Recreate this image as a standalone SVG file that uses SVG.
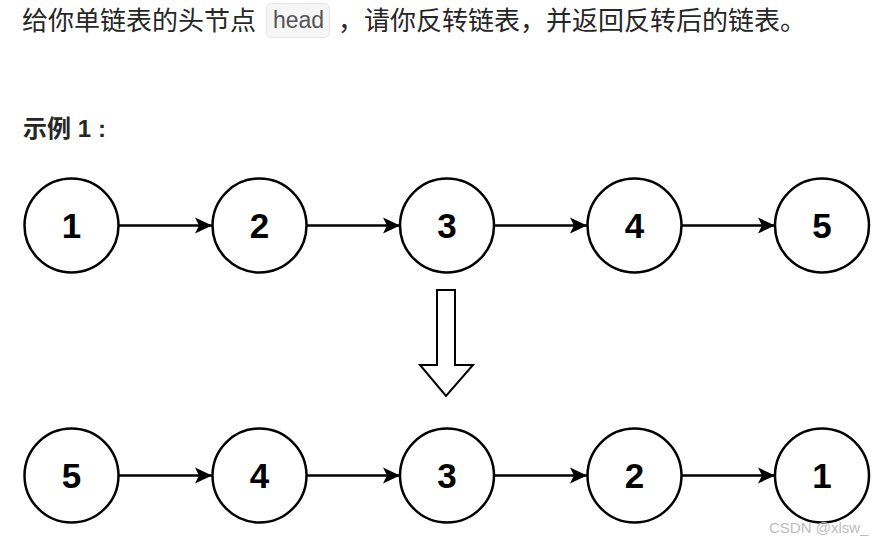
<svg xmlns="http://www.w3.org/2000/svg" width="877" height="546" viewBox="0 0 877 546">
<defs>
<style>
.title{font-family:"Noto Sans CJK SC","Liberation Sans",sans-serif;font-size:26px;fill:#262626}
.code{font-family:"Liberation Sans",sans-serif;font-size:23px;fill:#555}
.h{font-family:"Liberation Sans","Noto Sans CJK SC",sans-serif;font-size:24px;font-weight:bold;fill:#262626}
.node circle{fill:#fff;stroke:#000;stroke-width:2.5}
.node text{font-family:"Liberation Sans",Arial,sans-serif;font-size:35px;font-weight:bold;fill:#000;text-anchor:middle}
.conn line{stroke:#000;stroke-width:2.5}
.wm{font-family:"Liberation Sans",sans-serif;font-size:15px;fill:#bdbdbd}
</style>
<marker id="ah" markerUnits="userSpaceOnUse" markerWidth="20" markerHeight="20" viewBox="0 0 20 20" refX="17" refY="10" orient="auto">
<path d="M17,10 L0,2 L4,10 L0,18 Z" fill="#000"/>
</marker>
</defs>
<rect width="877" height="546" fill="#fff"/>
<text class="title" x="22" y="30">给你单链表的头节点</text>
<rect x="266.5" y="3.5" width="63" height="34" rx="5" fill="#f6f6f7" stroke="#e6e6e8"/>
<text class="code" x="273" y="28">head</text>
<text class="title" x="338" y="30">，请你反转链表，并返回反转后的链表。</text>
<text class="h" x="23" y="137">示例 1<tspan x="98">:</tspan></text>
<g class="conn">
<line x1="119" y1="225.5" x2="212" y2="225.5" marker-end="url(#ah)"/>
<line x1="307" y1="225.5" x2="400" y2="225.5" marker-end="url(#ah)"/>
<line x1="494" y1="225.5" x2="587" y2="225.5" marker-end="url(#ah)"/>
<line x1="682" y1="225.5" x2="775" y2="225.5" marker-end="url(#ah)"/>
<line x1="119" y1="475.5" x2="212" y2="475.5" marker-end="url(#ah)"/>
<line x1="307" y1="475.5" x2="400" y2="475.5" marker-end="url(#ah)"/>
<line x1="494" y1="475.5" x2="587" y2="475.5" marker-end="url(#ah)"/>
<line x1="682" y1="475.5" x2="775" y2="475.5" marker-end="url(#ah)"/>
</g>
<g id="n1" class="node"><circle cx="71.5" cy="225.5" r="47"/><text x="71.5" y="238">1</text></g>
<g id="n2" class="node"><circle cx="259.5" cy="225.5" r="47"/><text x="259.5" y="238">2</text></g>
<g id="n3" class="node"><circle cx="447" cy="225.5" r="47"/><text x="447" y="238">3</text></g>
<g id="n4" class="node"><circle cx="634.5" cy="225.5" r="47"/><text x="634.5" y="238">4</text></g>
<g id="n5" class="node"><circle cx="822" cy="225.5" r="47"/><text x="822" y="238">5</text></g>
<g id="m5" class="node"><circle cx="71.5" cy="475.5" r="47"/><text x="71.5" y="488">5</text></g>
<g id="m4" class="node"><circle cx="259.5" cy="475.5" r="47"/><text x="259.5" y="488">4</text></g>
<g id="m3" class="node"><circle cx="447" cy="475.5" r="47"/><text x="447" y="488">3</text></g>
<g id="m2" class="node"><circle cx="634.5" cy="475.5" r="47"/><text x="634.5" y="488">2</text></g>
<g id="m1" class="node"><circle cx="822" cy="475.5" r="47"/><text x="822" y="488">1</text></g>
<g id="bigArrow"><polygon points="437,290 455,290 455,365 473,365 446,396 420,365 437,365" fill="#fff" stroke="#000" stroke-width="2"/></g>
<text class="wm" x="769" y="533">CSDN @xlsw_</text>
</svg>
